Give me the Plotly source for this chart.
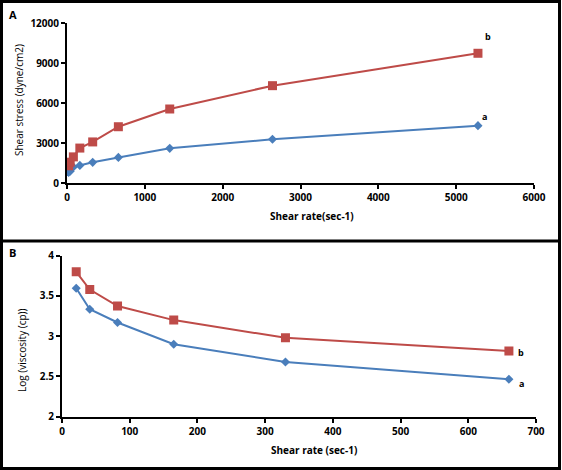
import plotly.graph_objects as go

W, H = 562, 470

# Panel A: shear stress vs shear rate
rate_a = [21, 41, 82, 165, 330, 660, 1320, 2640, 5280]
stress_a = [800, 880, 1200, 1320, 1550, 1920, 2600, 3280, 4300]
stress_b = [1290, 1560, 1960, 2620, 3080, 4220, 5550, 7300, 9730]

# Panel B: log viscosity vs shear rate
rate_v = [21, 41, 82, 165, 330, 660]
logvisc_a = [3.595, 3.335, 3.17, 2.90, 2.68, 2.465]
logvisc_b = [3.80, 3.58, 3.375, 3.20, 2.98, 2.815]

BLUE = "#4a7ebb"
RED = "#be4b48"
FONT = "Open Sans"

def px(x):
    return x / W

def py(y):
    return 1 - y / H

fig = go.Figure()

line_kw = dict(width=2)
fig.add_trace(go.Scatter(x=rate_a, y=stress_a, mode="lines+markers",
                         line=dict(color=BLUE, **line_kw),
                         marker=dict(symbol="diamond", size=7, color=BLUE),
                         xaxis="x", yaxis="y", showlegend=False))
fig.add_trace(go.Scatter(x=rate_a, y=stress_b, mode="lines+markers",
                         line=dict(color=RED, **line_kw),
                         marker=dict(symbol="square", size=9, color=RED),
                         xaxis="x", yaxis="y", showlegend=False))
fig.add_trace(go.Scatter(x=rate_v, y=logvisc_a, mode="lines+markers",
                         line=dict(color=BLUE, **line_kw),
                         marker=dict(symbol="diamond", size=7, color=BLUE),
                         xaxis="x2", yaxis="y2", showlegend=False))
fig.add_trace(go.Scatter(x=rate_v, y=logvisc_b, mode="lines+markers",
                         line=dict(color=RED, **line_kw),
                         marker=dict(symbol="square", size=9, color=RED),
                         xaxis="x2", yaxis="y2", showlegend=False))

tickfont = dict(family=FONT, size=10, color="black", weight="bold")
axis_common = dict(showgrid=False, zeroline=False, showline=True, linecolor="black",
                   linewidth=2, ticks="outside", ticklen=4, tickwidth=2,
                   tickcolor="black", tickfont=tickfont)

fig.update_layout(
    width=W, height=H,
    margin=dict(l=0, r=0, t=0, b=0, autoexpand=False),
    paper_bgcolor="white", plot_bgcolor="white",
    xaxis=dict(domain=[px(67), px(534)], range=[0, 6000], tickvals=[0, 1000, 2000, 3000, 4000, 5000, 6000],
               tickformat="d", anchor="y", **axis_common),
    yaxis=dict(domain=[py(183), py(23)], range=[0, 12000], tickvals=[0, 3000, 6000, 9000, 12000],
               tickformat="d", anchor="x", **axis_common),
    xaxis2=dict(domain=[px(62), px(536)], range=[0, 700], tickvals=[0, 100, 200, 300, 400, 500, 600, 700],
                tickformat="d", anchor="y2", **axis_common),
    yaxis2=dict(domain=[py(416.7), py(255.7)], range=[2, 4], tickvals=[2, 2.5, 3, 3.5, 4],
                ticktext=["2", "2.5", "3", "3.5", "4"], anchor="x2", **axis_common),
)

def ann(text, x, y, size=10, bold=True, angle=0, xanchor="center"):
    fig.add_annotation(text=text, x=px(x), y=py(y), xref="paper", yref="paper",
                       showarrow=False, textangle=angle, xanchor=xanchor, yanchor="middle",
                       font=dict(family=FONT, size=size, color="black",
                                 weight="bold" if bold else "normal"))

ann("A", 13, 15, size=11)
ann("B", 12, 252, size=11)
ann("Shear stress (dyne/cm2)", 19, 100, size=10, bold=False, angle=-90)
ann("Shear rate(sec-1)", 312, 216, size=10)
ann("Log (viscosity (cp))", 22, 350, size=10, bold=False, angle=-90)
ann("Shear rate (sec-1)", 314, 450, size=10)
ann("b", 488, 37, size=9)
ann("a", 484, 117, size=9)
ann("b", 521, 352, size=9)
ann("a", 521, 383, size=9)

# Frame and divider
frame = dict(color="black", width=3)
fig.add_shape(type="rect", xref="paper", yref="paper", x0=px(1.5), x1=px(559.5), y0=py(468.5), y1=py(1.5),
              line=frame)
fig.add_shape(type="line", xref="paper", yref="paper", x0=px(1.5), x1=px(559.5), y0=py(241), y1=py(241),
              line=frame)

fig.write_html("out.html", config={"displayModeBar": False},
               post_script="document.documentElement.style.margin='0';document.documentElement.style.overflow='hidden';"
                           "document.body.style.margin='0';document.body.style.padding='0';document.body.style.overflow='hidden';")
